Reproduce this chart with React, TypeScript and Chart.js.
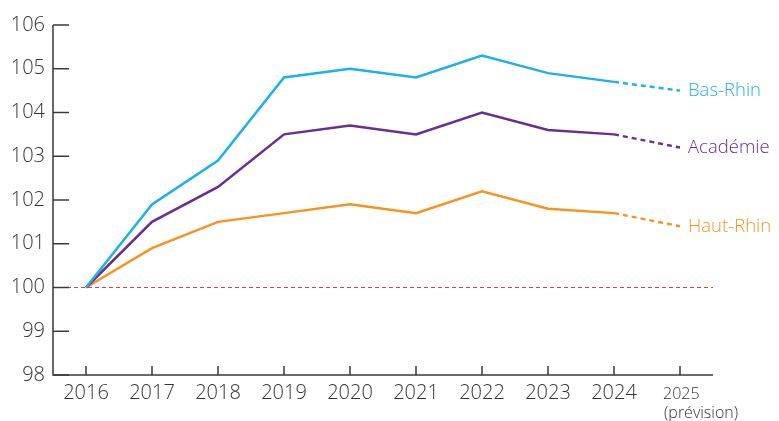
import React, { useEffect, useRef } from "react";
import { Chart, registerables } from "chart.js";

Chart.register(...registerables);

const categories = ["2016", "2017", "2018", "2019", "2020", "2021", "2022", "2023", "2024", "2025"];
const basRhin = [100, 101.9, 102.9, 104.8, 105.0, 104.8, 105.3, 104.9, 104.7, 104.5];
const academie = [100, 101.5, 102.3, 103.5, 103.7, 103.5, 104.0, 103.6, 103.5, 103.2];
const hautRhin = [100, 100.9, 101.5, 101.7, 101.9, 101.7, 102.2, 101.8, 101.7, 101.4];
const yTicks = [98, 99, 100, 101, 102, 103, 104, 105, 106];
const seriesNames = ["Bas-Rhin", "Académie", "Haut-Rhin"];
const colors = ["#1bb2ea", "#6b2d91", "#f7941d"];
const forecastNote = "(prévision)";

const FONT = "'Open Sans', sans-serif";

const customPlugin = {
  id: "custom",
  beforeDatasetsDraw(chart: any) {
    const { ctx, chartArea, scales } = chart;
    const y = scales.y.getPixelForValue(100);
    ctx.save();
    ctx.strokeStyle = "#e8383d";
    ctx.lineWidth = 1;
    ctx.setLineDash([4, 3]);
    ctx.beginPath();
    ctx.moveTo(chartArea.left, y);
    ctx.lineTo(chartArea.right, y);
    ctx.stroke();
    ctx.restore();
  },
  afterDraw(chart: any) {
    const { ctx, chartArea, scales } = chart;
    const xs = scales.x;
    const ys = scales.y;
    ctx.save();
    ctx.strokeStyle = "#3a3a3a";
    ctx.lineWidth = 1.5;
    ctx.setLineDash([]);
    // axes
    ctx.beginPath();
    ctx.moveTo(chartArea.left, chartArea.top);
    ctx.lineTo(chartArea.left, chartArea.bottom);
    ctx.lineTo(chartArea.right, chartArea.bottom);
    ctx.stroke();
    // y ticks
    ctx.fillStyle = "#333";
    ctx.font = `300 20px ${FONT}`;
    ctx.textAlign = "right";
    ctx.textBaseline = "middle";
    yTicks.forEach((v) => {
      const py = ys.getPixelForValue(v);
      ctx.beginPath();
      ctx.moveTo(chartArea.left, py);
      ctx.lineTo(chartArea.left + 16, py);
      ctx.stroke();
      ctx.fillText(String(v), chartArea.left - 8, py);
    });
    // x ticks
    categories.forEach((c, i) => {
      const px = xs.getPixelForValue(i);
      ctx.beginPath();
      ctx.moveTo(px, chartArea.bottom);
      ctx.lineTo(px, chartArea.bottom - 9);
      ctx.stroke();
      if (i === categories.length - 1) {
        ctx.font = `300 16px ${FONT}`;
        ctx.textAlign = "left";
        ctx.fillText(c, px - 17, chartArea.bottom + 19);
        ctx.fillText(forecastNote, px - 16, chartArea.bottom + 38);
      } else {
        ctx.font = `300 20px ${FONT}`;
        ctx.textAlign = "center";
        ctx.fillText(c, px, chartArea.bottom + 18);
      }
    });
    // series labels
    ctx.font = `300 18.5px ${FONT}`;
    ctx.textAlign = "left";
    const last = categories.length - 1;
    const data = [basRhin, academie, hautRhin];
    data.forEach((d, k) => {
      const px = xs.getPixelForValue(last);
      const py = ys.getPixelForValue(d[last]);
      ctx.fillStyle = colors[k];
      ctx.fillText(seriesNames[k], px + 8, py);
    });
    ctx.restore();
  },
};

export default function App() {
  const ref = useRef<HTMLCanvasElement>(null);
  useEffect(() => {
    document.body.style.margin = "0";
    const last = categories.length - 2;
    const mk = (label: string, data: number[], color: string) => ({
      label,
      data,
      borderColor: color,
      backgroundColor: color,
      borderWidth: 2.5,
      pointRadius: 0,
      tension: 0,
      segment: {
        borderDash: (c: any) => (c.p0DataIndex >= last ? [5, 4] : undefined),
      },
    });
    const chart = new Chart(ref.current!, {
      type: "line",
      data: {
        labels: categories,
        datasets: [
          mk(seriesNames[0], basRhin, colors[0]),
          mk(seriesNames[1], academie, colors[1]),
          mk(seriesNames[2], hautRhin, colors[2]),
        ],
      },
      options: {
        animation: false,
        responsive: false,
        layout: { padding: { left: 53, top: 25, right: 66, bottom: 46 } },
        plugins: { legend: { display: false }, tooltip: { enabled: false } },
        scales: {
          x: { type: "category", offset: true, display: false },
          y: { min: 98, max: 106, display: false },
        },
      },
      plugins: [customPlugin],
    });
    return () => chart.destroy();
  }, []);
  return <canvas ref={ref} width={779} height={421} style={{ display: "block" }} />;
}
